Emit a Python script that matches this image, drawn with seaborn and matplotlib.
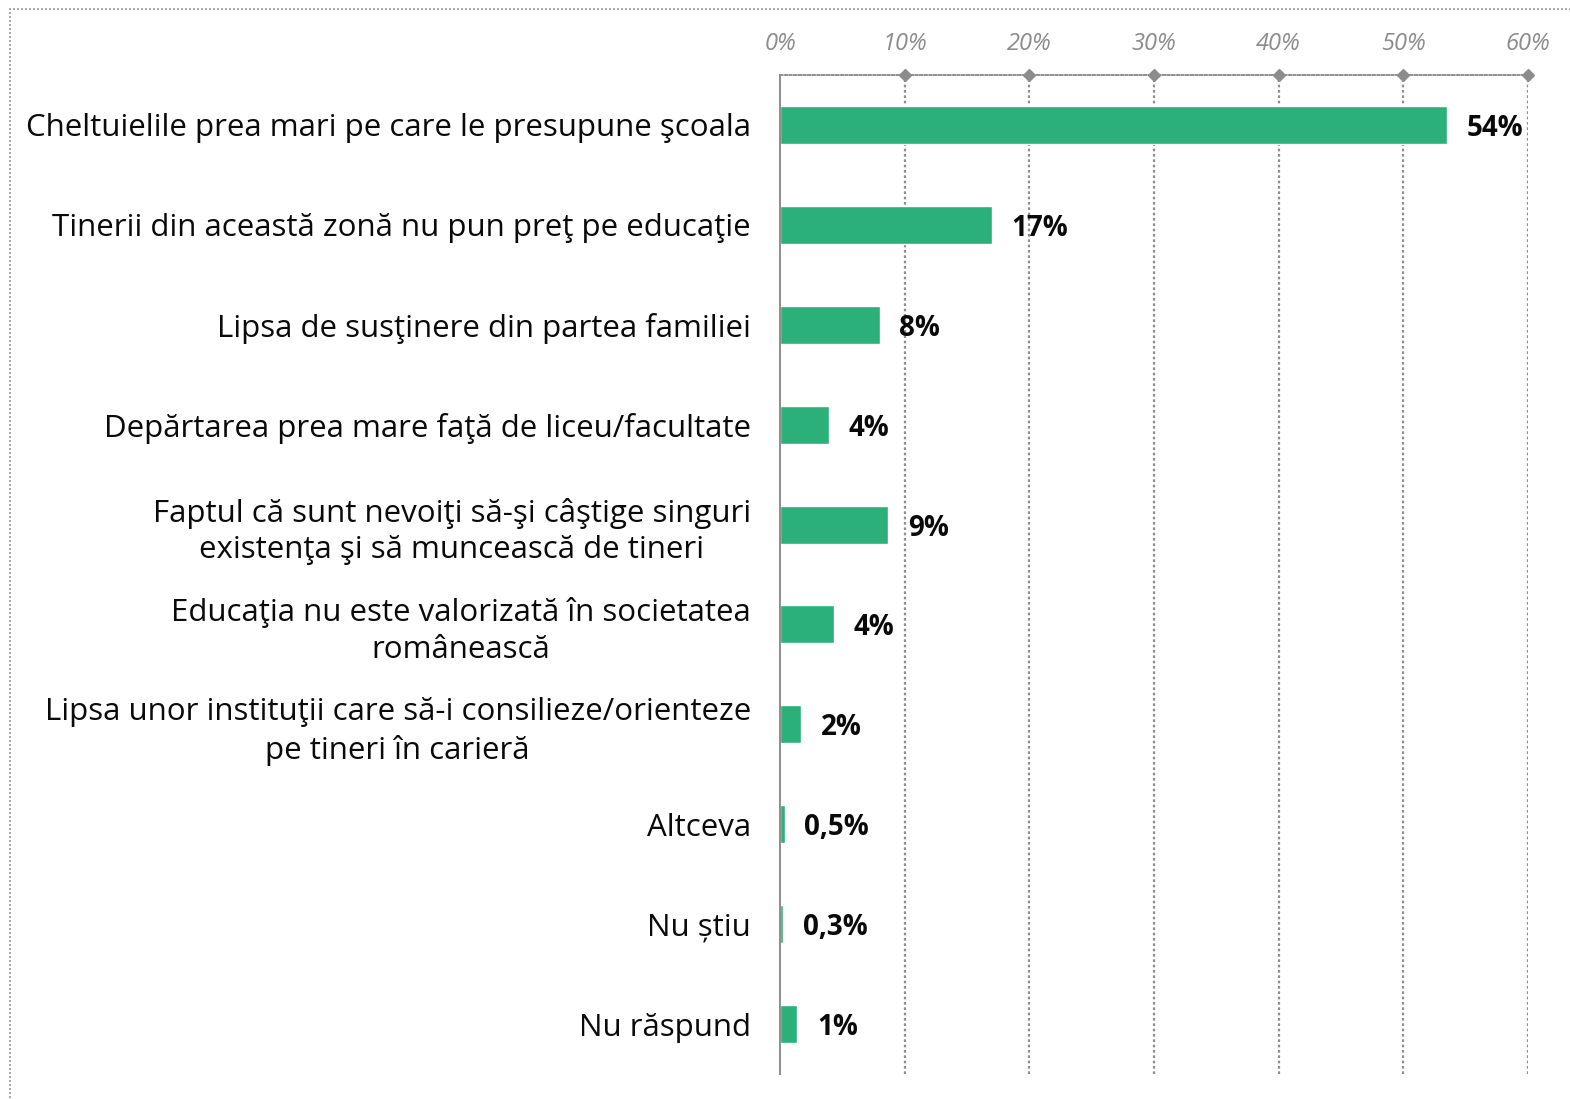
import matplotlib
matplotlib.use("Agg")
import matplotlib.pyplot as plt
import seaborn as sns
import pandas as pd
from matplotlib.patches import Rectangle

categories = [
    "Cheltuielile prea mari pe care le presupune şcoala",
    "Tinerii din această zonă nu pun preţ pe educaţie",
    "Lipsa de susţinere din partea familiei",
    "Depărtarea prea mare faţă de liceu/facultate",
    "Faptul că sunt nevoiţi să-şi câştige singuri\nexistenţa şi să muncească de tineri",
    "Educaţia nu este valorizată în societatea\nromânească",
    "Lipsa unor instituţii care să-i consilieze/orienteze\npe tineri în carieră",
    "Altceva",
    "Nu știu",
    "Nu răspund",
]
values = [53.5, 17.0, 8.0, 3.9, 8.7, 4.3, 1.7, 0.4, 0.25, 1.4]
value_labels = ["54%", "17%", "8%", "4%", "9%", "4%", "2%", "0,5%", "0,3%", "1%"]
x_ticks = [0, 10, 20, 30, 40, 50, 60]

df = pd.DataFrame({"cat": categories, "val": values})

sns.set_theme(style="white")
plt.rcParams["font.family"] = ["Open Sans", "DejaVu Sans"]

fig = plt.figure(figsize=(15.7, 10.99), dpi=100)
ax = fig.add_axes([780 / 1570, 1 - 1074 / 1099, 748 / 1570, 999 / 1099])

sns.barplot(data=df, y="cat", x="val", orient="h", color="#2ab078",
            width=0.38, saturation=1, ax=ax)

ax.set_xlim(0, 60)
ax.set_ylim(9.5, -0.5)
ax.set_xlabel("")
ax.set_ylabel("")

# x axis on top, italic grey labels
ax.xaxis.tick_top()
ax.set_xticks(x_ticks)
ax.set_xticklabels([f"{t}%" for t in x_ticks], fontstyle="italic",
                   color="#8c8c8c", fontsize=17)
ax.tick_params(axis="x", length=0, pad=14)
for t in x_ticks[1:]:
    ax.axvline(t, color="#8f8f8f", linestyle=(0, (1.2, 1.2)), lw=1.6, zorder=0)
ax.plot(x_ticks[1:], [-0.5] * 6, marker="D", ms=6, color="#8c8c8c",
        ls="none", clip_on=False, zorder=5)

# y axis with ticks between categories
ax.set_yticks(range(len(categories)))
ax.set_yticklabels(categories, fontsize=22.5, color="#0a0a0a", ha="right",
                   multialignment="center", linespacing=1.3)
ax.tick_params(axis="y", length=0, pad=21)
ax.set_yticks([i - 0.5 for i in range(len(categories) + 1)], minor=True)
ax.tick_params(axis="y", which="minor", length=8, width=1.2, color="#8c8c8c",
               direction="out")

for s in ["right", "bottom"]:
    ax.spines[s].set_visible(False)
ax.spines["left"].set_color("#8c8c8c")
ax.spines["left"].set_linewidth(1.4)
ax.spines["top"].set_color("#8f8f8f")
ax.spines["top"].set_linestyle((0, (1.2, 1.2)))
ax.spines["top"].set_linewidth(1.4)

texts = ax.bar_label(ax.containers[0], labels=value_labels, padding=14,
                     fontsize=20, fontweight="bold", color="#0a0a0a")
for t in texts:
    t.set_verticalalignment("center_baseline")

# dotted frame around the chart
fig.patches.append(Rectangle((10 / 1570, -0.05), 1600 / 1570, 1.05 - 9 / 1099,
                             transform=fig.transFigure, fill=False,
                             edgecolor="#9a9a9a", linestyle=(0, (1.2, 1.2)), lw=1.2))

fig.savefig("out.png", dpi=100)
